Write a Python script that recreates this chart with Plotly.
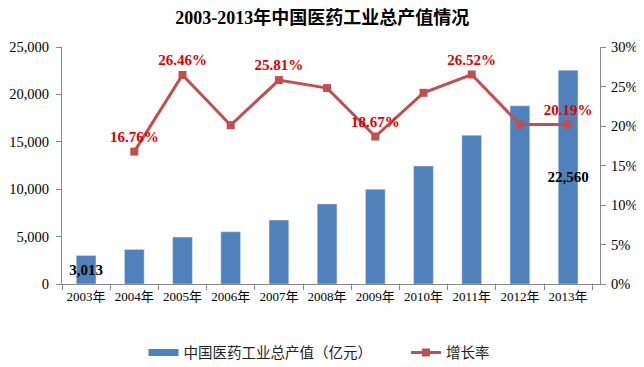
import plotly.graph_objects as go

years = ["2003年", "2004年", "2005年", "2006年", "2007年", "2008年",
         "2009年", "2010年", "2011年", "2012年", "2013年"]
output_value = [3013, 3650, 4950, 5500, 6750, 8450, 10000, 12450, 15700, 18800, 22560]
growth_years = years[1:]
growth_rate = [16.76, 26.46, 20.1, 25.81, 24.8, 18.67, 24.2, 26.52, 20.19, 20.19]
bar_labels = ["3,013", "", "", "", "", "", "", "", "", "", "22,560"]
rate_labels = ["16.76%", "26.46%", "", "25.81%", "", "18.67%", "", "26.52%", "", "20.19%"]

serif = "Liberation Serif, Times New Roman, serif"
BLUE = "#4F81BD"
RED = "#C0504D"

fig = go.Figure()
fig.add_trace(go.Bar(
    x=years, y=output_value, name="中国医药工业总产值（亿元）",
    marker=dict(color=BLUE), showlegend=False,
    text=bar_labels, textposition="inside", insidetextanchor="middle",
    textangle=0, constraintext="none",
    textfont=dict(family=serif, size=15, color="black", weight="bold"),
    cliponaxis=False,
))
# legend entry for bars (wide rectangle style); full-width spaces pad the gap to the next entry
fig.add_trace(go.Scatter(
    x=[None], y=[None], mode="lines", name="中国医药工业总产值（亿元）\u3000\u3000\u2002",
    line=dict(color=BLUE, width=7),
))
fig.add_trace(go.Scatter(
    x=growth_years, y=growth_rate, name="增长率", yaxis="y2",
    mode="lines+markers+text",
    line=dict(color=RED, width=3),
    marker=dict(color=RED, size=8, symbol="square"),
    text=rate_labels, textposition="top center",
    textfont=dict(family=serif, size=15, color="#DD0000", weight="bold"),
    cliponaxis=False,
))

fig.update_layout(
    width=636, height=359,
    margin=dict(l=54, r=44, t=39, b=83),
    paper_bgcolor="white", plot_bgcolor="white",
    title=dict(text="<b>2003-2013年中国医药工业总产值情况</b>",
               x=0.494, xanchor="center", y=0.972, yanchor="middle",
               font=dict(family="Liberation Serif, Noto Sans CJK SC", size=18, color="black")),
    bargap=0.59,
    showlegend=True,
    legend=dict(orientation="h", xref="container", yref="container",
                x=0.489, xanchor="center", y=0.04, yanchor="middle",
                font=dict(family="Noto Sans CJK SC", size=14.5, color="#222222"),
                tracegroupgap=0),
    xaxis=dict(type="category", showline=True, linecolor="#888888", linewidth=1,
               ticks="outside", tickson="boundaries", ticklen=5, tickcolor="#888888",
               tickangle=0, automargin=False,
               tickfont=dict(family="Liberation Serif, Noto Sans CJK SC", size=13, color="black"),
               showgrid=False),
    yaxis=dict(range=[0, 25000], dtick=5000, tickformat=",", showline=True,
               linecolor="#888888", linewidth=1, ticks="outside", ticklen=5,
               tickcolor="#888888", showgrid=False, zeroline=False,
               ticklabelstandoff=4, automargin=False,
               tickfont=dict(family=serif, size=14.5, color="black")),
    yaxis2=dict(range=[0, 30], dtick=5, ticksuffix="%", overlaying="y", side="right",
                showline=True, linecolor="#888888", linewidth=1, ticks="outside",
                ticklen=5, tickcolor="#888888", showgrid=False, zeroline=False,
                ticklabelstandoff=2, automargin=False,
                tickfont=dict(family=serif, size=14.5, color="black")),
)

fig.write_html("out.html")
